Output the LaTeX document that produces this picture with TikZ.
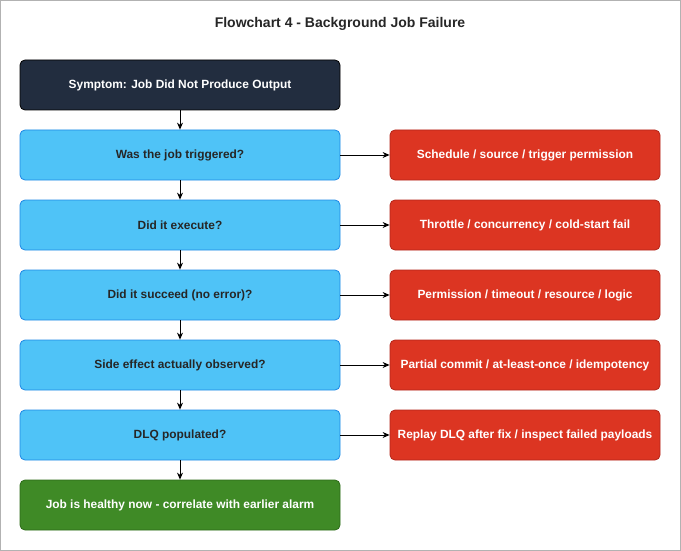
\documentclass[tikz,border=0pt]{standalone}
\usepackage{fontspec}
\setmainfont{Liberation Sans}
\usetikzlibrary{arrows.meta}
\definecolor{dark}{HTML}{222D3F}
\definecolor{blu}{HTML}{4FC3F7}
\definecolor{blub}{HTML}{1E88E5}
\definecolor{rd}{HTML}{DC3522}
\definecolor{rdb}{HTML}{B3261A}
\definecolor{gr}{HTML}{3F8A26}
\definecolor{grb}{HTML}{2C6A18}
\begin{document}
\begin{tikzpicture}[x=1pt,y=-1pt,
 box/.style={rounded corners=5pt,minimum height=50pt,font=\fontsize{11.9}{14}\selectfont\bfseries,line width=0.8pt,inner sep=2pt},
 lb/.style={box,minimum width=320pt},
 rb/.style={box,minimum width=270pt,fill=rd,draw=rdb,text=white},
 q/.style={lb,fill=blu,draw=blub,text=black!85},
 arr/.style={-{Stealth[length=7pt,width=6pt]},line width=0.9pt}]
\useasboundingbox (0,0) rectangle (681,551);
\draw[gray!60,line width=0.8pt] (0.5,0.5) rectangle (680.5,550.5);
\node[font=\fontsize{14}{16}\selectfont\bfseries,text=black!85] (t) at (340,24) {Flowchart 4 - Background Job Failure};
\node[lb,fill=dark,draw=black,text=white] (s) at (180,85) {Symptom: Job Did Not Produce Output};
\node[q] (q1) at (180,155) {Was the job triggered?};
\node[q] (q2) at (180,225) {Did it execute?};
\node[q] (q3) at (180,295) {Did it succeed (no error)?};
\node[q] (q4) at (180,365) {Side effect actually observed?};
\node[q] (q5) at (180,435) {DLQ populated?};
\node[lb,fill=gr,draw=grb,text=white] (h) at (180,505) {Job is healthy now - correlate with earlier alarm};
\node[rb] (r1) at (525,155) {Schedule / source / trigger permission};
\node[rb] (r2) at (525,225) {Throttle / concurrency / cold-start fail};
\node[rb] (r3) at (525,295) {Permission / timeout / resource / logic};
\node[rb] (r4) at (525,365) {Partial commit / at-least-once / idempotency};
\node[rb] (r5) at (525,435) {Replay DLQ after fix / inspect failed payloads};
\foreach \a/\b in {s/q1,q1/q2,q2/q3,q3/q4,q4/q5,q5/h} \draw[arr] (\a) -- (\b);
\foreach \i in {1,...,5} \draw[arr] (q\i) -- (r\i);
\end{tikzpicture}
\end{document}
